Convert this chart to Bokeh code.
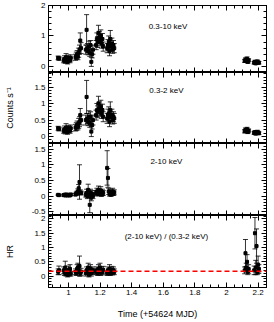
from bokeh.plotting import figure
from bokeh.models import (ColumnDataSource, Whisker, TeeHead, LinearAxis, SingleIntervalTicker,
                          Range1d, Label, Span, CustomJSTickFormatter, CustomLabelingPolicy)
from bokeh.layouts import column
from bokeh.embed import file_html
from bokeh.resources import INLINE

FONT = "Liberation Sans"

# ---------------- data ----------------
time_all = [0.935, 0.940,
            0.970, 0.975, 0.980, 0.985, 0.990, 0.995, 1.000, 1.005, 1.010, 1.015,
            1.045, 1.050, 1.055, 1.060, 1.065, 1.070, 1.075, 1.080,
            1.110, 1.115, 1.120, 1.125, 1.130, 1.135, 1.140, 1.145, 1.150, 1.155,
            1.175, 1.180, 1.185, 1.190, 1.195, 1.200, 1.205, 1.210, 1.215, 1.220,
            1.245, 1.250, 1.255, 1.260, 1.265, 1.270, 1.275, 1.280, 1.285, 1.290,
            2.115, 2.120, 2.125, 2.130, 2.135, 2.140,
            2.175, 2.180, 2.185, 2.190, 2.195, 2.200, 2.205]

rate_full = [0.28, 0.26,
             0.20, 0.25, 0.18, 0.30, 0.22, 0.15, 0.27, 0.24, 0.20, 0.28,
             0.30, 0.35, 0.40, 0.32, 0.45, 0.55, 0.85, 0.60,
             0.55, 1.20, 0.60, 0.50, 0.65, 0.45, 0.70, 0.15, 0.40, 0.55,
             0.70, 0.90, 0.80, 1.10, 0.95, 0.85, 1.00, 0.75, 0.90, 0.65,
             0.60, 0.70, 0.80, 0.50, 0.90, 0.65, 0.75, 0.55, 0.70, 0.60,
             0.18, 0.22, 0.20, 0.25, 0.15, 0.20,
             0.12, 0.15, 0.10, 0.14, 0.16, 0.13, 0.12]
err_full = [0.06, 0.06,
            0.08, 0.10, 0.08, 0.12, 0.08, 0.07, 0.10, 0.09, 0.08, 0.10,
            0.10, 0.12, 0.12, 0.10, 0.15, 0.15, 0.25, 0.18,
            0.15, 0.50, 0.15, 0.12, 0.18, 0.12, 0.15, 0.15, 0.12, 0.15,
            0.15, 0.20, 0.18, 0.25, 0.20, 0.18, 0.20, 0.15, 0.18, 0.15,
            0.15, 0.18, 0.20, 0.15, 0.28, 0.15, 0.18, 0.12, 0.15, 0.15,
            0.05, 0.06, 0.05, 0.06, 0.05, 0.05,
            0.04, 0.05, 0.04, 0.04, 0.05, 0.04, 0.04]

rate_soft = [0.25, 0.23,
             0.18, 0.22, 0.16, 0.27, 0.20, 0.14, 0.24, 0.22, 0.18, 0.25,
             0.27, 0.30, 0.35, 0.30, 0.40, 0.45, 0.65, 0.50,
             0.50, 1.20, 0.55, 0.45, 0.60, 0.40, 0.60, 0.15, 0.35, 0.50,
             0.65, 0.80, 0.75, 1.00, 0.85, 0.80, 0.90, 0.70, 0.80, 0.60,
             0.55, 0.65, 0.70, 0.45, 0.80, 0.60, 0.65, 0.50, 0.60, 0.55,
             0.16, 0.20, 0.18, 0.22, 0.14, 0.18,
             0.11, 0.13, 0.09, 0.12, 0.14, 0.12, 0.10]
err_soft = [0.06, 0.06,
            0.08, 0.10, 0.08, 0.12, 0.08, 0.07, 0.10, 0.09, 0.08, 0.10,
            0.10, 0.12, 0.12, 0.10, 0.15, 0.15, 0.20, 0.15,
            0.15, 0.50, 0.15, 0.12, 0.18, 0.12, 0.15, 0.15, 0.12, 0.15,
            0.15, 0.20, 0.18, 0.22, 0.20, 0.18, 0.20, 0.15, 0.18, 0.15,
            0.15, 0.18, 0.20, 0.15, 0.25, 0.15, 0.18, 0.12, 0.15, 0.15,
            0.05, 0.06, 0.05, 0.06, 0.05, 0.05,
            0.04, 0.05, 0.04, 0.04, 0.05, 0.04, 0.04]

time_hard = time_all[:50]
rate_hard = [0.04, 0.03,
             0.03, 0.04, 0.02, 0.05, 0.03, 0.02, 0.04, 0.03, 0.02, 0.05,
             0.05, 0.08, 0.10, 0.15, 0.25, 0.45, 0.12, 0.10,
             0.05, 0.10, 0.00, 0.20, 0.05, -0.28, 0.10, -0.05, 0.08, 0.00,
             0.10, 0.15, 0.08, 0.20, 0.12, 0.10, 0.18, 0.05, 0.12, 0.10,
             0.90, 0.58, 0.15, 0.08, 0.12, 0.05, 0.10, 0.15, 0.08, 0.12]
err_hard = [0.02, 0.02,
            0.03, 0.03, 0.02, 0.04, 0.03, 0.02, 0.03, 0.03, 0.02, 0.04,
            0.04, 0.05, 0.06, 0.08, 0.12, 0.55, 0.08, 0.06,
            0.08, 0.12, 0.08, 0.18, 0.10, 0.25, 0.12, 0.10, 0.10, 0.08,
            0.08, 0.10, 0.08, 0.12, 0.10, 0.08, 0.12, 0.06, 0.10, 0.08,
            0.55, 0.30, 0.10, 0.08, 0.10, 0.06, 0.08, 0.10, 0.06, 0.08]

hr = [0.15, 0.20,
      0.20, 0.12, 0.30, 0.10, 0.15, 0.05, 0.20, 0.10, 0.25, 0.08,
      0.15, 0.10, 0.25, 0.30, 0.20, 0.35, 0.10, 0.15,
      0.10, 0.20, 0.15, 0.30, 0.05, 0.20, 0.25, 0.10, 0.15, 0.20,
      0.15, 0.20, 0.10, 0.25, 0.18, 0.30, 0.12, 0.20, 0.15, 0.22,
      0.10, 0.20, 0.15, 0.25, 0.10, 0.18, 0.22, 0.12, 0.20, 0.15,
      0.20, 0.80, 0.30, 0.50, 0.15, 0.25,
      0.20, 1.50, 0.30, 1.05, 0.15, 0.40, 0.25]
err_hr = [0.10, 0.15,
          0.12, 0.10, 0.22, 0.10, 0.12, 0.08, 0.15, 0.10, 0.15, 0.08,
          0.10, 0.08, 0.15, 0.15, 0.12, 0.35, 0.10, 0.12,
          0.10, 0.12, 0.10, 0.15, 0.08, 0.12, 0.15, 0.10, 0.10, 0.12,
          0.10, 0.12, 0.08, 0.15, 0.10, 0.15, 0.10, 0.12, 0.10, 0.12,
          0.08, 0.12, 0.10, 0.15, 0.08, 0.10, 0.12, 0.08, 0.12, 0.10,
          0.12, 0.48, 0.15, 0.25, 0.10, 0.15,
          0.15, 0.55, 0.25, 0.60, 0.10, 0.30, 0.15]

HR_MEAN = 0.17

panel_titles = ["0.3-10 keV", "0.3-2 keV", "2-10 keV", "(2-10 keV) / (0.3-2 keV)"]
x_label = "Time (+54624 MJD)"
counts_label = "Counts s\u207b\u00b9"
hr_label = "HR"

FMT = CustomJSTickFormatter(code="return Number(tick.toFixed(2)).toString();")
NO_LABELS = CustomLabelingPolicy(code="return [];")


def style_axis(ax, labels):
    ax.axis_line_color = "black"
    ax.axis_line_width = 1
    ax.major_tick_line_color = "black"
    ax.minor_tick_line_color = "black"
    ax.major_tick_in = 5
    ax.major_tick_out = 0
    ax.minor_tick_in = 3
    ax.minor_tick_out = 0
    ax.formatter = FMT
    ax.major_label_text_font = FONT
    ax.major_label_text_color = "black"
    if labels:
        ax.major_label_text_font_size = "8px"
        ax.major_label_standoff = 3
    else:
        ax.major_label_text_font_size = "0px"
        ax.major_label_standoff = 0
        ax.major_label_policy = NO_LABELS
    ax.axis_label_text_font = FONT
    ax.axis_label_text_font_style = "normal"
    ax.axis_label_text_font_size = "9px"
    ax.axis_label_text_color = "black"


def make_panel(t, y, e, yrange, yint, ynminor, frame_h, title, title_xy,
               bottom=False, ylabel=None, top_border=0):
    p = figure(frame_width=218, frame_height=frame_h,
               x_range=Range1d(0.874, 2.253), y_range=Range1d(*yrange),
               output_backend="svg", toolbar_location=None,
               min_border_left=48, min_border_right=6,
               min_border_top=top_border, min_border_bottom=0)
    p.grid.visible = False
    p.outline_line_color = "black"
    p.background_fill_color = "white"
    p.border_fill_color = "white"

    p.xaxis.ticker = SingleIntervalTicker(interval=0.2, num_minor_ticks=4)
    p.yaxis.ticker = SingleIntervalTicker(interval=yint, num_minor_ticks=ynminor)
    style_axis(p.xaxis[0], bottom)
    style_axis(p.yaxis[0], True)
    if bottom:
        p.xaxis.axis_label = x_label
        p.xaxis.major_label_standoff = 2
        p.xaxis.axis_label_standoff = 11
    if ylabel:
        p.yaxis.axis_label = ylabel
        p.yaxis.axis_label_standoff = 16

    top = LinearAxis(ticker=SingleIntervalTicker(interval=0.2, num_minor_ticks=4))
    style_axis(top, False)
    p.add_layout(top, "above")
    right = LinearAxis(ticker=SingleIntervalTicker(interval=yint, num_minor_ticks=ynminor))
    style_axis(right, False)
    p.add_layout(right, "right")

    lo = [a - b for a, b in zip(y, e)]
    hi = [a + b for a, b in zip(y, e)]
    src = ColumnDataSource(dict(t=t, y=y, lo=lo, hi=hi))
    w = Whisker(source=src, base="t", lower="lo", upper="hi", dimension="height",
                line_color="black", line_width=0.8,
                upper_head=TeeHead(size=5, line_color="black", line_width=0.8),
                lower_head=TeeHead(size=5, line_color="black", line_width=0.8))
    p.add_layout(w)
    p.scatter("t", "y", source=src, marker="square", size=3,
              fill_color="black", line_color="black")

    p.add_layout(Label(x=title_xy[0], y=title_xy[1], text=title,
                       text_align="center", text_baseline="middle",
                       text_font=FONT, text_font_size="8px", text_color="black"))
    return p


p1 = make_panel(time_all, rate_full, err_full, (-0.2, 2.0), 1, 5, 67,
                panel_titles[0], (1.63, 1.3), top_border=5)
p2 = make_panel(time_all, rate_soft, err_soft, (-0.21, 1.94), 0.5, 5, 71,
                panel_titles[1], (1.62, 1.39), ylabel=counts_label)
p3 = make_panel(time_hard, rate_hard, err_hard, (-0.62, 1.68), 0.5, 5, 72,
                panel_titles[2], (1.62, 1.09))
p4 = make_panel(time_all, hr, err_hr, (-0.4, 2.12), 0.5, 5, 72,
                panel_titles[3], (1.62, 1.38), bottom=True, ylabel=hr_label)
p4.add_layout(Span(location=HR_MEAN, dimension="width", line_color="red",
                   line_width=1.5, line_dash="5 3"))

layout = column(p1, p2, p3, p4, spacing=0)
open("out.html", "w").write(file_html(layout, INLINE))
